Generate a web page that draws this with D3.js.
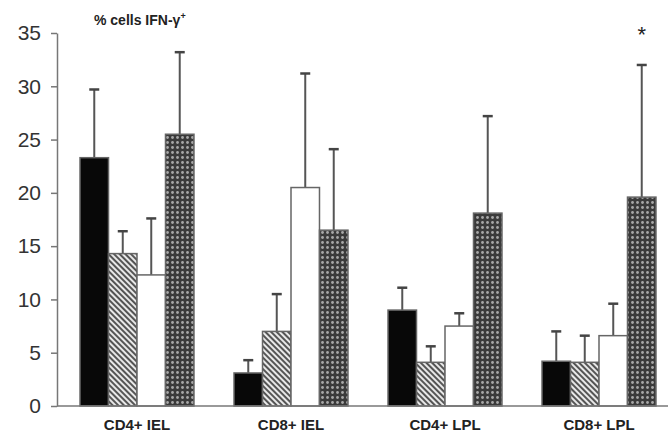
<!DOCTYPE html>
<html>
<head>
<meta charset="utf-8">
<script src="https://cdn.jsdelivr.net/npm/d3@7"></script>
<style>
  body { margin: 0; background: #fff; }
  svg { display: block; font-family: Arial, "Liberation Sans", sans-serif; }
</style>
</head>
<body>
<script>
const GROUPS = ["CD4+ IEL", "CD8+ IEL", "CD4+ LPL", "CD8+ LPL"];
const SERIES = ["black", "hatch", "white", "dots"];
// mean values per series, in group order
const MEANS = {
  black: [23.3, 3.1, 9.0, 4.2],
  hatch: [14.3, 7.0, 4.1, 4.1],
  white: [12.3, 20.5, 7.5, 6.6],
  dots: [25.5, 16.5, 18.1, 19.6]
};
// top of the error bar
const ERR_TOP = {
  black: [29.7, 4.3, 11.1, 7.0],
  hatch: [16.4, 10.5, 5.6, 6.6],
  white: [17.6, 31.2, 8.7, 9.6],
  dots: [33.2, 24.1, 27.2, 32.0]
};
const Y_TICKS = [0, 5, 10, 15, 20, 25, 30, 35];

const width = 668,
  height = 433,
  margin = { left: 57, bottom: 406, top: 33 };

const svg = d3
  .select("body")
  .append("svg")
  .attr("width", width)
  .attr("height", height);

const defs = svg.append("defs");

// diagonal hatch (\\\)
const hatch = defs
  .append("pattern")
  .attr("id", "hatch")
  .attr("patternUnits", "userSpaceOnUse")
  .attr("width", 4)
  .attr("height", 4)
  .attr("patternTransform", "rotate(-45)");
hatch.append("rect").attr("width", 4).attr("height", 4).attr("fill", "#e8e8e8");
hatch.append("rect").attr("width", 2).attr("height", 4).attr("fill", "#555");

// dark with light dots
const dots = defs
  .append("pattern")
  .attr("id", "dots")
  .attr("patternUnits", "userSpaceOnUse")
  .attr("width", 5)
  .attr("height", 5);
dots.append("rect").attr("width", 5).attr("height", 5).attr("fill", "#3a3a3a");
dots.append("circle").attr("cx", 2.5).attr("cy", 2.5).attr("r", 1.4).attr("fill", "#a8a8a8");

const FILLS = {
  black: "#080808",
  hatch: "url(#hatch)",
  white: "#ffffff",
  dots: "url(#dots)"
};

const x0 = d3
  .scaleBand()
  .domain(GROUPS)
  .range([60, 676])
  .paddingInner(0.26)
  .paddingOuter(0.13);

const x1 = d3
  .scaleBand()
  .domain(SERIES)
  .range([0, x0.bandwidth()]);

const y = d3
  .scaleLinear()
  .domain([0, 35])
  .range([margin.bottom, margin.top]);

// y axis
const yAxis = d3
  .axisLeft(y)
  .tickValues(Y_TICKS)
  .tickSize(6)
  .tickSizeOuter(0)
  .tickPadding(10);

const gy = svg
  .append("g")
  .attr("id", "y-axis")
  .attr("transform", `translate(${margin.left},0)`)
  .call(yAxis);
gy.selectAll("path, line").attr("stroke", "#777").attr("stroke-width", 1.5);
gy.selectAll("text")
  .attr("font-size", 21)
  .attr("fill", "#333")
  .attr("font-family", "Arial, 'Liberation Sans', sans-serif");

// bars
const rows = [];
GROUPS.forEach((g, i) => {
  SERIES.forEach(s => {
    rows.push({ group: g, series: s, value: MEANS[s][i], top: ERR_TOP[s][i] });
  });
});

const bars = svg.append("g").attr("id", "bars");

// error bars behind bars
bars
  .selectAll("line.err")
  .data(rows)
  .join("line")
  .attr("class", "err")
  .attr("x1", d => x0(d.group) + x1(d.series) + x1.bandwidth() / 2)
  .attr("x2", d => x0(d.group) + x1(d.series) + x1.bandwidth() / 2)
  .attr("y1", d => y(d.value))
  .attr("y2", d => y(d.top))
  .attr("stroke", "#555")
  .attr("stroke-width", 2);

bars
  .selectAll("line.cap")
  .data(rows)
  .join("line")
  .attr("class", "cap")
  .attr("x1", d => x0(d.group) + x1(d.series) + x1.bandwidth() / 2 - 5)
  .attr("x2", d => x0(d.group) + x1(d.series) + x1.bandwidth() / 2 + 5)
  .attr("y1", d => y(d.top))
  .attr("y2", d => y(d.top))
  .attr("stroke", "#444")
  .attr("stroke-width", 2.5);

bars
  .selectAll("rect")
  .data(rows)
  .join("rect")
  .attr("x", d => x0(d.group) + x1(d.series))
  .attr("y", d => y(d.value))
  .attr("width", x1.bandwidth())
  .attr("height", d => y(0) - y(d.value))
  .attr("fill", d => FILLS[d.series])
  .attr("stroke", "#666")
  .attr("stroke-width", 1.5);

// x axis
const xAxis = d3.axisBottom(x0).tickSize(0).tickPadding(13);
const gx = svg
  .append("g")
  .attr("id", "x-axis")
  .attr("transform", `translate(0,${margin.bottom})`)
  .call(xAxis);
gx.select(".domain").remove();
gx.selectAll("text")
  .attr("font-size", 15)
  .attr("font-weight", "bold")
  .attr("fill", "#222")
  .attr("font-family", "Arial, 'Liberation Sans', sans-serif");

svg
  .append("line")
  .attr("x1", margin.left)
  .attr("x2", width)
  .attr("y1", y(0))
  .attr("y2", y(0))
  .attr("stroke", "#777")
  .attr("stroke-width", 1.5);

// title
const title = svg
  .append("text")
  .attr("x", 94)
  .attr("y", 25)
  .attr("font-size", 14)
  .attr("font-weight", "bold")
  .attr("fill", "#222")
  .text("% cells IFN-\u03b3");
title
  .append("tspan")
  .attr("dy", -6)
  .attr("font-size", 9)
  .text("+");

// significance marker
svg
  .append("text")
  .attr("x", x0("CD8+ LPL") + x1("dots") + x1.bandwidth() / 2)
  .attr("y", 42)
  .attr("text-anchor", "middle")
  .attr("font-size", 22)
  .attr("fill", "#222")
  .text("*");
</script>
</body>
</html>
